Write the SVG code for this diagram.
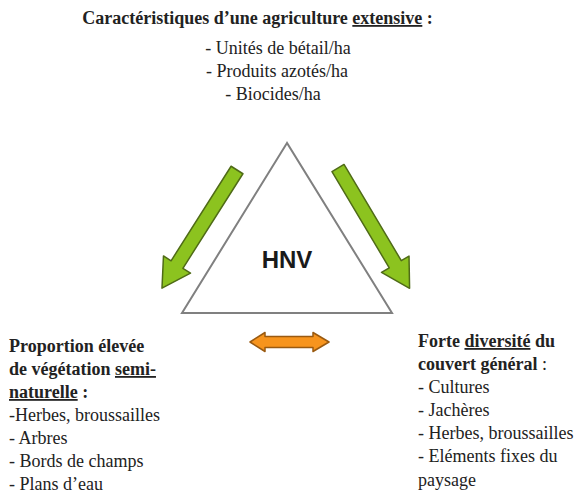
<svg xmlns="http://www.w3.org/2000/svg" width="586" height="499" viewBox="0 0 586 499">
<style>
.t{font-family:"Liberation Serif","Times New Roman",serif;fill:#222;font-size:18px}
.b{font-weight:bold}
.u{text-decoration:underline}
.g{fill:#8cc31f;stroke:#4f6b17;stroke-width:1.5;stroke-linejoin:round}
.o{fill:#f7941d;stroke:#9a5a10;stroke-width:1.5;stroke-linejoin:round}
</style>
<defs>
<polygon id="garrow" points="0,-7 112,-7 112,-16 140,0 112,16 112,7 0,7"/>
</defs>
<rect width="586" height="499" fill="#fff"/>
<g id="top">
<text class="t b" x="257.5" y="24" text-anchor="middle">Caractéristiques d’une agriculture <tspan class="u">extensive</tspan> :</text>
<text class="t" x="278" y="54" text-anchor="middle">- Unités de bétail/ha</text>
<text class="t" x="277" y="77" text-anchor="middle">- Produits azotés/ha</text>
<text class="t" x="273" y="100" text-anchor="middle">- Biocides/ha</text>
</g>
<g id="hnv">
<polygon points="287,143 182,313 392,313" fill="#fff" stroke="#808080" stroke-width="2"/>
<text x="287" y="268" text-anchor="middle" font-family="'Liberation Sans',Arial,sans-serif" font-weight="bold" font-size="24" fill="#1a1a1a">HNV</text>
</g>
<g id="left">
<text class="t b" x="9" y="352">Proportion élevée</text>
<text class="t b" x="9" y="375">de végétation <tspan class="u">semi-</tspan></text>
<text class="t b" x="9" y="398"><tspan class="u">naturelle</tspan> :</text>
<text class="t" x="9" y="421">-Herbes, broussailles</text>
<text class="t" x="9" y="444">- Arbres</text>
<text class="t" x="9" y="467">- Bords de champs</text>
<text class="t" x="9" y="490">- Plans d’eau</text>
</g>
<g id="right">
<text class="t b" x="418" y="347">Forte <tspan class="u">diversité</tspan> du</text>
<text class="t b" x="418" y="370">couvert général <tspan font-weight="normal">:</tspan></text>
<text class="t" x="418" y="393">- Cultures</text>
<text class="t" x="418" y="416">- Jachères</text>
<text class="t" x="418" y="439">- Herbes, broussailles</text>
<text class="t" x="418" y="462">- Eléments fixes du</text>
<text class="t" x="418" y="486">paysage</text>
</g>
<g id="connectors">
<use href="#garrow" class="g" transform="translate(237,170) rotate(122.4)"/>
<use href="#garrow" class="g" transform="translate(338,168) rotate(59.25)"/>
<polygon class="o" points="250,342 265,332.5 265,336.5 313,336.5 313,332.5 329,342 313,351.5 313,347.5 265,347.5 265,351.5"/>
</g>
</svg>
